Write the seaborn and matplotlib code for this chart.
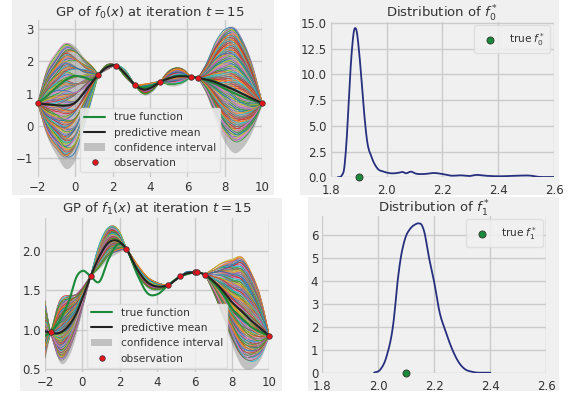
import numpy as np
import pandas as pd
import matplotlib
matplotlib.use("Agg")
import matplotlib.pyplot as plt
import seaborn as sns
from matplotlib.patches import Rectangle, Patch
from matplotlib.lines import Line2D

# ---------------- data ----------------
f0_x = [-2.0, -1.5, -1.0, -0.5, 0.0, 0.5, 1.0, 1.24, 1.7, 2.18, 2.7, 3.21, 3.7, 4.1,
        4.55, 5.0, 5.4, 5.8, 6.17, 6.58, 7.0, 7.5, 8.0, 8.5, 9.0, 9.5, 10.0]
f0_mean = [0.70, 0.67, 0.64, 0.63, 0.72, 1.05, 1.43, 1.59, 1.82, 1.87, 1.60, 1.26, 1.13, 1.20,
           1.37, 1.47, 1.53, 1.54, 1.52, 1.49, 1.44, 1.36, 1.24, 1.12, 0.98, 0.84, 0.70]
f0_true = [0.70, 0.93, 1.20, 1.43, 1.55, 1.50, 1.45, 1.59, 1.83, 1.88, 1.60, 1.27, 1.20, 1.25,
           1.37, 1.48, 1.55, 1.56, 1.53, 1.49, 1.41, 1.30, 1.15, 1.02, 0.89, 0.79, 0.70]
f0_band = [0.0, 1.00, 1.55, 1.95, 1.75, 1.05, 0.35, 0.0, 0.08, 0.0, 0.12, 0.0, 0.17, 0.14,
           0.0, 0.22, 0.28, 0.20, 0.0, 0.0, 0.45, 1.20, 1.75, 1.95, 1.60, 0.95, 0.0]
f0_obs_x = [-2.0, 1.24, 2.18, 3.21, 4.55, 6.17, 6.58, 10.0]
f0_obs_y = [0.70, 1.59, 1.87, 1.26, 1.37, 1.52, 1.49, 0.70]

f1_x = [-2.0, -1.7, -1.2, -0.7, -0.3, 0.0, 0.44, 0.9, 1.4, 1.9, 2.35, 2.9, 3.5, 4.0,
        4.6, 5.24, 5.6, 6.02, 6.11, 6.56, 7.0, 7.5, 8.0, 8.5, 9.0, 9.5, 10.0]
f1_mean = [0.98, 0.96, 0.96, 1.06, 1.22, 1.40, 1.68, 1.93, 2.11, 2.13, 2.03, 1.78, 1.60, 1.55,
           1.57, 1.68, 1.72, 1.73, 1.73, 1.70, 1.62, 1.50, 1.35, 1.24, 1.12, 1.02, 0.92]
f1_true = [0.92, 0.97, 1.12, 1.38, 1.68, 1.75, 1.68, 1.61, 1.90, 2.09, 2.03, 1.72, 1.46, 1.45,
           1.57, 1.68, 1.71, 1.73, 1.73, 1.70, 1.60, 1.46, 1.27, 1.15, 1.04, 0.97, 0.92]
f1_band = [0.35, 0.0, 0.38, 0.38, 0.25, 0.14, 0.0, 0.15, 0.20, 0.15, 0.0, 0.06, 0.07, 0.05,
           0.0, 0.0, 0.02, 0.0, 0.0, 0.0, 0.15, 0.35, 0.55, 0.70, 0.62, 0.40, 0.0]
f1_obs_x = [-1.7, 0.44, 2.35, 4.6, 5.24, 6.02, 6.11, 6.56, 10.0]
f1_obs_y = [0.97, 1.68, 2.03, 1.57, 1.68, 1.73, 1.73, 1.70, 0.92]

d0_x = [1.825, 1.84, 1.848, 1.857, 1.865, 1.872, 1.878, 1.884, 1.888, 1.893, 1.901, 1.91,
        1.919, 1.93, 1.946, 1.967, 1.99, 2.015, 2.045, 2.057, 2.07, 2.087, 2.105, 2.134,
        2.17, 2.2, 2.23, 2.266, 2.30, 2.32, 2.35, 2.40, 2.47, 2.516, 2.54, 2.6]
d0_y = [0.0, 0.2, 0.8, 3.6, 7.5, 10.9, 13.0, 14.3, 14.5, 14.2, 12.4, 9.6,
        6.5, 3.6, 2.0, 0.87, 0.55, 0.39, 0.45, 0.52, 0.39, 0.55, 0.36, 0.32,
        0.42, 0.32, 0.16, 0.19, 0.13, 0.23, 0.16, 0.10, 0.16, 0.16, 0.06, 0.03]
d1_x = [1.985, 2.006, 2.03, 2.054, 2.07, 2.08, 2.09, 2.10, 2.11, 2.12, 2.13, 2.145,
        2.155, 2.165, 2.18, 2.2, 2.218, 2.24, 2.264, 2.288, 2.31, 2.335, 2.4]
d1_y = [0.0, 0.12, 0.73, 2.18, 4.1, 5.0, 5.6, 6.0, 6.22, 6.37, 6.46, 6.52,
        6.45, 6.11, 5.09, 3.93, 2.69, 1.82, 1.02, 0.44, 0.15, 0.04, 0.0]
true_f0_star = 1.90
true_f1_star = 2.10

# ---------------- style ----------------
BG = '#f0f0f0'
sns.set_style("darkgrid", {"axes.facecolor": BG, "grid.color": "#cbcbcb",
                           "axes.edgecolor": BG, "figure.facecolor": "white"})
plt.rcParams['font.family'] = ['DejaVu Sans']
plt.rcParams['mathtext.fontset'] = 'dejavusans'
TICK_FS = 8.5
TITLE_FS = 9.5
LEG_FS = 7.6
GREEN = '#1a8a3a'
NAVY = '#26307f'
TXT = '#333333'
tab10 = sns.color_palette("tab10", 10)

W, H = 568, 396
fig = plt.figure(figsize=(W / 100, H / 100), dpi=100, facecolor='white')
for (x0, y0, x1, y1) in [(12, 0, 274, 195), (300, 0, 559, 195),
                         (20, 198, 282, 391), (308, 197, 559, 391)]:
    fig.add_artist(Rectangle((x0 / W, 1 - y1 / H), (x1 - x0) / W, (y1 - y0) / H,
                             transform=fig.transFigure, facecolor=BG,
                             edgecolor='none', zorder=-10))


def rect(l, r, t, b):
    return [l / W, 1 - b / H, (r - l) / W, (b - t) / H]


def hermite(xk, yk, xs):
    xk = np.asarray(xk, float)
    yk = np.asarray(yk, float)
    m = np.gradient(yk, xk)
    idx = np.clip(np.searchsorted(xk, xs, side='right') - 1, 0, len(xk) - 2)
    h = xk[idx + 1] - xk[idx]
    t = (xs - xk[idx]) / h
    h00 = 2 * t**3 - 3 * t**2 + 1
    h10 = t**3 - 2 * t**2 + t
    h01 = -2 * t**3 + 3 * t**2
    h11 = t**3 - t**2
    return h00 * yk[idx] + h10 * h * m[idx] + h01 * yk[idx + 1] + h11 * h * m[idx + 1]


def style_axes(ax, xpad=3.0):
    ax.grid(True, color='#cbcbcb', lw=1.0)
    ax.set_axisbelow(True)
    for s in ax.spines.values():
        s.set_visible(False)
    ax.tick_params(length=0, labelsize=TICK_FS, colors=TXT)
    ax.tick_params(axis='x', pad=xpad)
    ax.tick_params(axis='y', pad=3)


N_SAMPLES = 113
MULTS = [7, 13, 3, 11, 17, 9, 19, 23, 21, 27]
MULTS2 = [29, 5, 31, 37, 41, 43, 47, 53, 59, 61]


def gp_panel(ax, xk, mean, true, band, ox, oy, title, ylim, yticks, title_pad):
    xk = np.asarray(xk, float)
    band = np.asarray(band, float)
    zero_idx = [0] + [i for i in range(1, len(xk) - 1) if band[i] == 0] + [len(xk) - 1]
    segs = []
    for a, b in zip(zero_idx[:-1], zero_idx[1:]):
        n = max(int((xk[b] - xk[a]) * 70), 6)
        xs = np.linspace(xk[a], xk[b], n)
        hw = hermite(xk[a:b + 1], band[a:b + 1], xs)
        u = np.linspace(-1, 1, n)
        segs.append((xs, hw, hermite(xk, mean, xs), u))
    all_x = np.concatenate([s[0] for s in segs])
    all_hw = np.concatenate([s[1] for s in segs])
    all_m = np.concatenate([s[2] for s in segs])

    ax.fill_between(all_x, all_m - all_hw, all_m + all_hw, color='gray',
                    alpha=0.42, lw=0, zorder=1)

    levels = np.linspace(-0.82, 0.98, N_SAMPLES)
    tilts = np.linspace(-0.22, 0.22, N_SAMPLES)
    rows = []
    for i in range(N_SAMPLES):
        ys = []
        for g, (xs, hw, mm, u) in enumerate(segs):
            c = levels[(i * MULTS[g % 10] + 5 * g) % N_SAMPLES]
            d = tilts[(i * MULTS2[g % 10] + 11 * g) % N_SAMPLES]
            ys.append(mm + hw * (c + d * u))
        rows.append(pd.DataFrame({'x': all_x, 'y': np.concatenate(ys), 'curve': i}))
    df = pd.concat(rows, ignore_index=True)
    pal = [tab10[i % 10] for i in range(N_SAMPLES)]
    sns.lineplot(data=df, x='x', y='y', hue='curve', palette=pal, estimator=None,
                 sort=False, legend=False, lw=0.55, ax=ax, zorder=2)

    dense = np.linspace(xk[0], xk[-1], 500)
    sns.lineplot(x=dense, y=hermite(xk, true, dense), color=GREEN, lw=1.5,
                 ax=ax, zorder=4)
    sns.lineplot(x=dense, y=hermite(xk, mean, dense), color='#222222', lw=1.5,
                 ax=ax, zorder=5)
    sns.scatterplot(x=ox, y=oy, color='#e8141c', edgecolor='#333333', linewidth=0.5,
                    s=16, ax=ax, zorder=6, clip_on=False)

    ax.set_xlim(-2, 10)
    ax.set_ylim(*ylim)
    ax.set_xticks([-2, 0, 2, 4, 6, 8, 10])
    ax.set_yticks(yticks)
    ax.set_xlabel('')
    ax.set_ylabel('')
    style_axes(ax)
    ax.set_title(title, fontsize=TITLE_FS, color=TXT, pad=title_pad)
    handles = [Line2D([], [], color=GREEN, lw=1.5),
               Line2D([], [], color='#222222', lw=1.5),
               Patch(facecolor='gray', alpha=0.42, edgecolor='none'),
               Line2D([], [], ls='none', marker='o', markersize=4,
                      markerfacecolor='#e8141c', markeredgecolor='#333333',
                      markeredgewidth=0.5)]
    labels = ['true function', 'predictive mean', 'confidence interval', 'observation']
    leg = ax.legend(handles, labels, loc='lower center', fontsize=LEG_FS,
                    facecolor=BG, edgecolor='#dcdcdc', framealpha=0.85,
                    labelcolor=TXT, borderpad=0.4, labelspacing=0.5,
                    borderaxespad=0.4)
    leg.set_zorder(10)


def dist_panel(ax, dx, dy, star, title, ylim, yticks, label, title_pad):
    dense = np.linspace(dx[0], dx[-1], 400)
    yy = np.clip(hermite(dx, dy, dense), 0, None)
    sns.lineplot(x=dense, y=yy, color=NAVY, lw=1.3, ax=ax, zorder=3)
    sns.scatterplot(x=[star], y=[0], color=GREEN, edgecolor='#333333', linewidth=0.6,
                    s=26, ax=ax, zorder=5, clip_on=False, label=label)
    ax.set_xlim(1.8, 2.6)
    ax.set_ylim(*ylim)
    ax.set_xticks([1.8, 2.0, 2.2, 2.4, 2.6])
    ax.set_yticks(yticks)
    ax.set_xlabel('')
    ax.set_ylabel('')
    style_axes(ax, xpad=5.0)
    ax.set_title(title, fontsize=TITLE_FS, color=TXT, pad=title_pad)
    ax.legend(loc='upper right', fontsize=LEG_FS, facecolor=BG, edgecolor='#dcdcdc',
              framealpha=0.85, labelcolor=TXT, borderpad=0.5, borderaxespad=0.35)


ax1 = fig.add_axes(rect(37.7, 262.3, 20.5, 176.6))
gp_panel(ax1, f0_x, f0_mean, f0_true, f0_band, f0_obs_x, f0_obs_y,
         r'GP of $f_0(x)$ at iteration $t=15$', (-1.57, 3.27), [-1, 0, 1, 2, 3], 2.7)

ax3 = fig.add_axes(rect(45.0, 269.4, 217.5, 372.0))
gp_panel(ax3, f1_x, f1_mean, f1_true, f1_band, f1_obs_x, f1_obs_y,
         r'GP of $f_1(x)$ at iteration $t=15$', (0.46, 2.43), [0.5, 1.0, 1.5, 2.0], 3.3)

ax2 = fig.add_axes(rect(330.7, 554.0, 21.8, 177.3))
dist_panel(ax2, d0_x, d0_y, true_f0_star, r'Distribution of $f_0^*$', (0, 15.1),
           [0, 2.5, 5, 7.5, 10, 12.5, 15], r'true $f_0^*$', 3.0)
ax2.set_yticklabels(['0.0', '2.5', '5.0', '7.5', '10.0', '12.5', '15.0'])

ax4 = fig.add_axes(rect(322.3, 546.3, 215.8, 372.7))
dist_panel(ax4, d1_x, d1_y, true_f1_star, r'Distribution of $f_1^*$', (0, 6.85),
           [0, 1, 2, 3, 4, 5, 6], r'true $f_1^*$', 1.8)

fig.savefig('out.png', dpi=100, facecolor='white')
